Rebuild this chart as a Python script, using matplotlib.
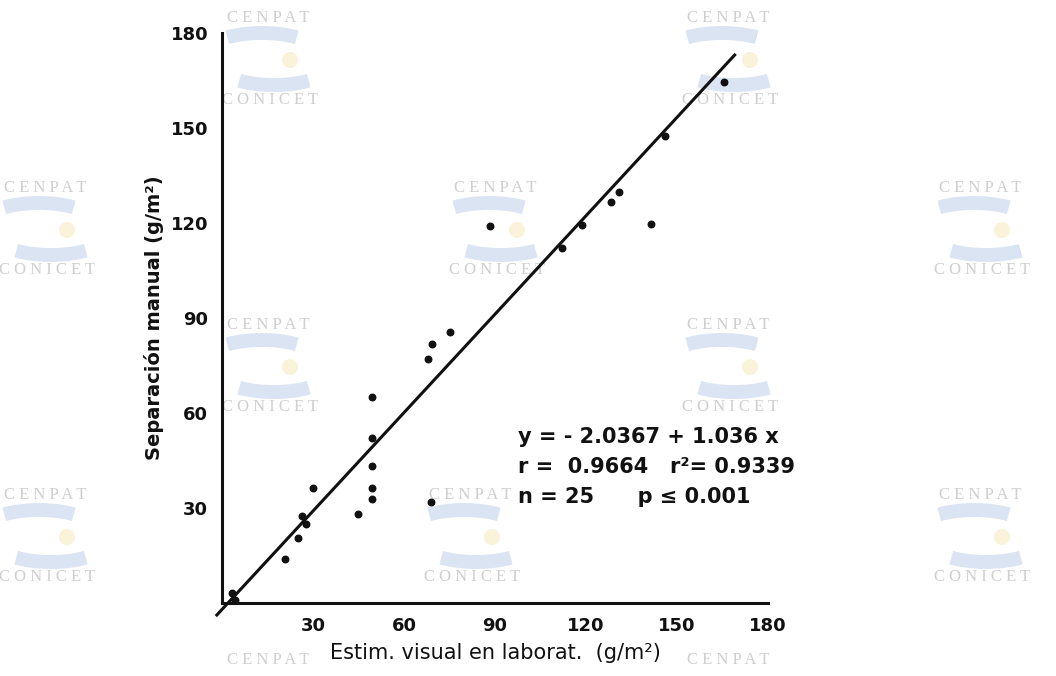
import numpy as np
import matplotlib as mpl
mpl.use('Agg')
from matplotlib import pyplot as plt
from matplotlib.patches import Arc, Circle

# data
visual = [3.2, 4.3, 20.8, 25.0, 26.3, 27.7, 30.1, 44.8, 49.4, 49.4, 49.4, 49.5,
          75.0, 69.2, 67.8, 69.0, 88.2, 118.7, 112.1, 141.5, 165.4, 146.2,
          130.8, 128.1, 49.6]
manual = [3.2, 0.9, 13.9, 20.6, 27.4, 24.9, 36.2, 28.0, 43.4, 36.2, 33.0, 65.0,
          85.5, 81.7, 77.1, 31.9, 119.2, 119.5, 112.1, 119.8, 164.5, 147.6,
          129.7, 126.6, 52.0]
intercept = -2.0367
slope = 1.036
tick_vals = [30, 60, 90, 120, 150, 180]
line_x = [-1.7, 169.0]

ink = '#111111'

fig = plt.figure(figsize=(10.56, 6.76), dpi=100)

# background layer for the CENPAT / CONICET watermarks (pixel coords)
bg = fig.add_axes([0, 0, 1, 1], zorder=0)
bg.set_xlim(0, 1056)
bg.set_ylim(676, 0)
bg.axis('off')

marks = [(268, 18), (728, 18), (45, 188), (495, 188), (980, 188),
         (268, 325), (728, 325), (45, 495), (470, 495), (980, 495),
         (268, 660), (728, 660)]
for cx, cy in marks:
    bg.text(cx, cy, 'C E N P A T', ha='center', va='center', fontsize=12,
            family='Liberation Serif', color='#cfcfcf')
    if cy + 40 < 676:
        bg.add_patch(Arc((cx + 6, cy + 50), 104, 34, theta1=20, theta2=160,
                         lw=10, color='#dbe4f2'))
        bg.add_patch(Arc((cx - 6, cy + 32), 104, 34, theta1=200, theta2=340,
                         lw=10, color='#dbe4f2'))
        bg.add_patch(Circle((cx + 22, cy + 42), 8, color='#faf3da', lw=0))
    if cy + 80 < 676:
        bg.text(cx + 2, cy + 82, 'C O N I C E T', ha='center', va='center',
                fontsize=12, family='Liberation Serif', color='#cfcfcf')

# main plot
ax = fig.add_axes([222 / 1056, 1 - 603 / 676, 546 / 1056, 570 / 676], zorder=1)
ax.set_facecolor('none')
ax.set_xlim(0, 180)
ax.set_ylim(0, 180)
for s in ['top', 'right']:
    ax.spines[s].set_visible(False)
for s in ['left', 'bottom']:
    ax.spines[s].set_linewidth(2.2)
    ax.spines[s].set_color(ink)

ax.set_xticks(tick_vals)
ax.set_yticks(tick_vals)
ax.tick_params(length=0, labelsize=13, colors=ink, pad=10)
for lab in ax.get_xticklabels() + ax.get_yticklabels():
    lab.set_fontweight('bold')

ax.scatter(visual, manual, s=22, color=ink, zorder=3, clip_on=False)
lx = np.array(line_x)
ax.plot(lx, intercept + slope * lx, color=ink, lw=2.2, clip_on=False, zorder=2)

ax.set_ylabel('Separación manual (g/m²)', fontsize=14, fontweight='bold',
              color=ink, labelpad=5)
ax.set_xlabel('Estim. visual en laborat.  (g/m²)', fontsize=15, color=ink,
              labelpad=6)

ann = dict(fontsize=15, color=ink, va='center', fontweight='bold')
ax.text(97.5, 52.5, 'y = - 2.0367 + 1.036 x', **ann)
ax.text(97.5, 43.0, 'r =  0.9664   r²= 0.9339', **ann)
ax.text(97.5, 33.5, 'n = 25      p ≤ 0.001', **ann)

fig.savefig('out.png', dpi=100)
